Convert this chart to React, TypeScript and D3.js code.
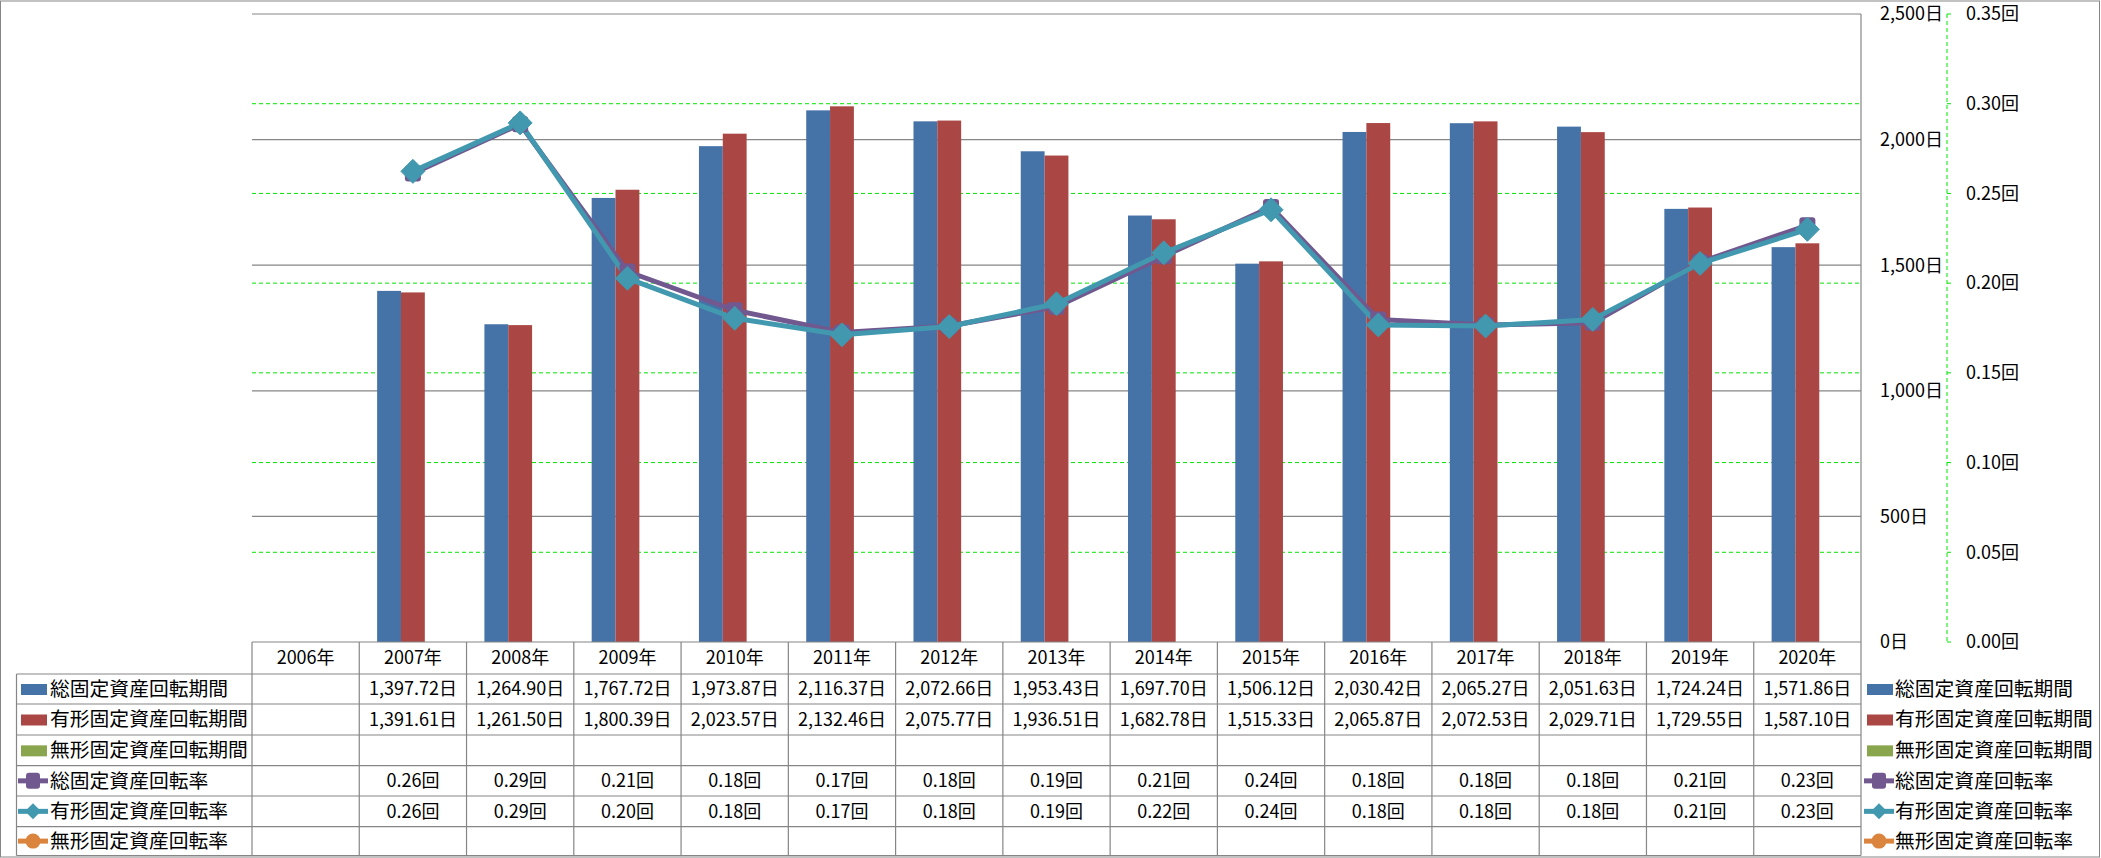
import React from "react";
import * as d3 from "d3";

const years = ["2006年","2007年","2008年","2009年","2010年","2011年","2012年","2013年","2014年","2015年","2016年","2017年","2018年","2019年","2020年"];
const totalDays: (number | null)[] = [null,1397.72,1264.90,1767.72,1973.87,2116.37,2072.66,1953.43,1697.70,1506.12,2030.42,2065.27,2051.63,1724.24,1571.86];
const tangibleDays: (number | null)[] = [null,1391.61,1261.50,1800.39,2023.57,2132.46,2075.77,1936.51,1682.78,1515.33,2065.87,2072.53,2029.71,1729.55,1587.10];
const intangibleDays: (number | null)[] = [null,null,null,null,null,null,null,null,null,null,null,null,null,null,null];
const totalRate: (number | null)[] = [null,0.2611,0.2886,0.2065,0.1849,0.1725,0.1761,0.1869,0.2150,0.2424,0.1798,0.1767,0.1779,0.2117,0.2322];
const tangibleRate: (number | null)[] = [null,0.2623,0.2893,0.2027,0.1804,0.1712,0.1758,0.1885,0.2169,0.2409,0.1767,0.1761,0.1798,0.2110,0.2300];
const intangibleRate: (number | null)[] = [null,null,null,null,null,null,null,null,null,null,null,null,null,null,null];
const leftTicks = [0, 500, 1000, 1500, 2000, 2500];
const rightTicks = [0, 0.05, 0.1, 0.15, 0.2, 0.25, 0.3, 0.35];

const seriesNames = ["総固定資産回転期間","有形固定資産回転期間","無形固定資産回転期間","総固定資産回転率","有形固定資産回転率","無形固定資産回転率"];
const colors = ["#4572A7","#AA4643","#89A54E","#71588F","#4198AF","#DB843D"];

const FONT = "'Noto Sans CJK JP', 'Noto Sans', sans-serif";

export default function App() {
  const W = 2101, H = 858;
  const left = 252, right = 1861, top = 14, bottom = 642;
  const x = d3.scaleBand<string>().domain(years).range([left, right]).paddingInner(0).paddingOuter(0);
  const cw = x.bandwidth();
  const gw = (cw * 3) / 4.5;
  const xs = d3.scaleBand<number>().domain([0, 1, 2]).range([-gw / 2, gw / 2]).padding(0);
  const y = d3.scaleLinear().domain([0, 2500]).range([bottom, top]);
  const y2 = d3.scaleLinear().domain([0, 0.35]).range([bottom, top]);
  const cx = (i: number) => (x(years[i]) as number) + cw / 2;

  const barSeries = [totalDays, tangibleDays, intangibleDays];
  const rateSeries = [totalRate, tangibleRate, intangibleRate];
  const lineGen = d3.line<[number, number | null]>()
    .defined((d) => d[1] != null)
    .x((d) => cx(d[0]))
    .y((d) => y2(d[1] as number));

  const rowTops = [674, 704, 735, 765.7, 796, 826.7];
  const rowBottom = 855.5;
  const headerTop = 642;
  const tableLeft = 16.5;
  const rowCenter = (r: number) => (rowTops[r] + (r < 5 ? rowTops[r + 1] : rowBottom)) / 2;
  const fmtDays = d3.format(",.2f");
  const fmtRate = d3.format(".2f");
  const gray = "#868686";

  const legendKey = (s: number, kx: number, ky: number) => {
    if (s < 3) {
      return <rect x={kx + 3} y={ky - 5} width={26} height={11} fill={colors[s]} />;
    }
    const mx = kx + 15;
    return (
      <g>
        <line x1={kx} x2={kx + 30} y1={ky} y2={ky} stroke={colors[s]} strokeWidth={5} />
        {s === 3 && <rect x={mx - 7} y={ky - 8} width={14} height={16} rx={3} fill={colors[s]} />}
        {s === 4 && <path d={`M${mx},${ky - 8}L${mx + 8},${ky}L${mx},${ky + 8}L${mx - 8},${ky}Z`} fill={colors[s]} />}
        {s === 5 && <circle cx={mx} cy={ky} r={7.5} fill={colors[s]} />}
      </g>
    );
  };

  return (
    <svg width={W} height={H} style={{ position: "absolute", left: 0, top: 0, background: "#fff" }} fontFamily={FONT}>
      <rect x={0.5} y={1} width={W - 2} height={H - 2} fill="#fff" stroke={gray} strokeWidth={1} />

      {/* secondary gridlines (green dashed) */}
      {rightTicks.slice(1, -1).map((t) => (
        <line key={"g2" + t} x1={left} x2={right} y1={y2(t)} y2={y2(t)} stroke="#00e600" strokeWidth={1} strokeDasharray="4 3" />
      ))}
      {/* primary gridlines */}
      {leftTicks.slice(1).map((t) => (
        <line key={"g1" + t} x1={left} x2={right} y1={y(t)} y2={y(t)} stroke={gray} strokeWidth={1.2} />
      ))}

      {/* bars */}
      {barSeries.map((ser, s) =>
        ser.map((v, i) =>
          v == null ? null : (
            <rect key={`b${s}-${i}`} x={cx(i) + (xs(s) as number)} y={y(v)} width={xs.bandwidth()} height={bottom - y(v)} fill={colors[s]} />
          )
        )
      )}

      {/* lines */}
      {[0, 1].map((s) => (
        <path key={"l" + s} d={lineGen(rateSeries[s].map((v, i) => [i, v] as [number, number | null])) || ""} fill="none" stroke={colors[3 + s]} strokeWidth={5} strokeLinejoin="round" />
      ))}
      {totalRate.map((v, i) =>
        v == null ? null : <rect key={"m0" + i} x={cx(i) - 8} y={y2(v) - 8} width={16} height={16} rx={3} fill={colors[3]} />
      )}
      {tangibleRate.map((v, i) =>
        v == null ? null : (
          <path key={"m1" + i} d={`M${cx(i)},${y2(v) - 12}L${cx(i) + 12},${y2(v)}L${cx(i)},${y2(v) + 12}L${cx(i) - 12},${y2(v)}Z`} fill={colors[4]} stroke={colors[4]} strokeWidth={1} strokeLinejoin="round" />
        )
      )}

      {/* primary axis line on right */}
      <line x1={right} x2={right} y1={top} y2={rowBottom} stroke={gray} strokeWidth={1.2} />
      {leftTicks.map((t) => (
        <text key={"lt" + t} x={1880} y={y(t)} dy="0.35em" fontSize={18} fill="#000">{d3.format(",")(t)}日</text>
      ))}
      {/* secondary axis */}
      <line x1={1947} x2={1947} y1={top} y2={bottom} stroke="#00e600" strokeWidth={1} strokeDasharray="4 3" />
      {rightTicks.map((t) => (
        <g key={"rt" + t}>
          <line x1={1947} x2={1951} y1={y2(t)} y2={y2(t)} stroke="#00e600" strokeWidth={1} />
          <text x={1966} y={y2(t)} dy="0.35em" fontSize={18} fill="#000">{fmtRate(t)}回</text>
        </g>
      ))}

      {/* data table */}
      <line x1={left} x2={right} y1={headerTop} y2={headerTop} stroke={gray} strokeWidth={1.2} />
      {rowTops.map((r) => (
        <line key={"rl" + r} x1={tableLeft} x2={right} y1={r} y2={r} stroke={gray} strokeWidth={1.2} />
      ))}
      <line x1={tableLeft} x2={right} y1={rowBottom} y2={rowBottom} stroke={gray} strokeWidth={1.2} />
      <line x1={tableLeft} x2={tableLeft} y1={rowTops[0]} y2={rowBottom} stroke={gray} strokeWidth={1.2} />
      {years.map((yr, i) => (
        <line key={"vl" + i} x1={x(yr) as number} x2={x(yr) as number} y1={headerTop} y2={rowBottom} stroke={gray} strokeWidth={1.2} />
      ))}
      {years.map((yr, i) => (
        <text key={"hd" + i} x={cx(i)} y={(headerTop + rowTops[0]) / 2} dy="0.35em" textAnchor="middle" fontSize={18}>{yr}</text>
      ))}
      {[totalDays, tangibleDays, intangibleDays].map((ser, r) =>
        ser.map((v, i) =>
          v == null ? null : (
            <text key={`d${r}-${i}`} x={cx(i)} y={rowCenter(r)} dy="0.35em" textAnchor="middle" fontSize={18}>{fmtDays(v)}日</text>
          )
        )
      )}
      {rateSeries.map((ser, r) =>
        ser.map((v, i) =>
          v == null ? null : (
            <text key={`r${r}-${i}`} x={cx(i)} y={rowCenter(3 + r)} dy="0.35em" textAnchor="middle" fontSize={18}>{fmtRate(v)}回</text>
          )
        )
      )}
      {seriesNames.map((nm, s) => (
        <g key={"tk" + s}>
          {legendKey(s, 18, rowCenter(s))}
          <text x={50} y={rowCenter(s)} dy="0.35em" fontSize={19.8}>{nm}</text>
        </g>
      ))}

      {/* right legend */}
      {seriesNames.map((nm, s) => (
        <g key={"lg" + s}>
          {legendKey(s, 1864, rowCenter(s))}
          <text x={1895} y={rowCenter(s)} dy="0.35em" fontSize={19.8}>{nm}</text>
        </g>
      ))}
    </svg>
  );
}
